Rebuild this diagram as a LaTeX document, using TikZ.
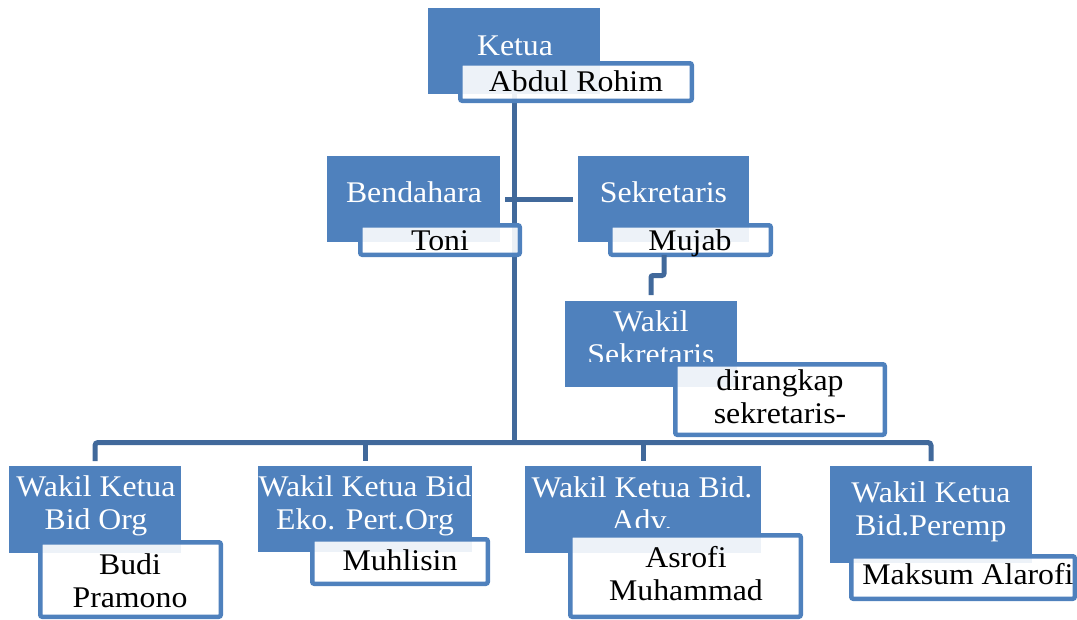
\documentclass[tikz,border=0pt]{standalone}
\usepackage{fontspec}
\setmainfont[FakeStretch=1.06]{Liberation Serif}
\newcommand\chartfs{\fontsize{30}{33}\selectfont}
\definecolor{blu}{HTML}{4F81BD}
\definecolor{conncol}{HTML}{41699B}
\tikzset{
  bluebox/.style={fill=blu, draw=none, inner sep=0pt, outer sep=0pt},
  namebox/.style={fill=white, fill opacity=0.9, draw=blu, draw opacity=1, line width=4.5pt, rounded corners=2pt, inner sep=0pt, outer sep=0pt},
  wtext/.style={text=white, font=\chartfs, anchor=base, align=center, inner sep=0pt},
  ktext/.style={text=black, font=\chartfs, anchor=base, align=center, inner sep=0pt},
  conn/.style={draw=conncol, line width=5pt}
}
\begin{document}
\begin{tikzpicture}[x=1pt,y=-1pt]
\useasboundingbox (0,0) rectangle (1077,619);
% named coordinates
\coordinate (busc) at (515,442.5);
\coordinate (mj) at (664,275.5);
% blue boxes
\node[bluebox, minimum width=172pt, minimum height=86pt] (K) at (514,51) {};
\node[bluebox, minimum width=173pt, minimum height=86pt] (Bend) at (413.5,199) {};
\node[bluebox, minimum width=171pt, minimum height=86pt] (Sek) at (663.5,199) {};
\node[bluebox, minimum width=172pt, minimum height=86pt] (WS) at (651,344) {};
\node[bluebox, minimum width=172pt, minimum height=87pt] (B1) at (95,509.5) {};
\node[bluebox, minimum width=214pt, minimum height=86pt] (B2) at (365,509) {};
\node[bluebox, minimum width=236pt, minimum height=87pt] (B3) at (643,509.5) {};
\node[bluebox, minimum width=202pt, minimum height=97pt] (B4) at (931,514.5) {};
% connectors
\draw[conn] (K.south) -- (K.south |- busc);
\draw[conn, rounded corners=3pt, shorten <=5pt, shorten >=5pt]
  (B1.north) -- (B1.north |- busc) -- (B4.north |- busc) -- (B4.north);
\draw[conn, shorten >=5pt] (B2.north |- busc) -- (B2.north);
\draw[conn, shorten >=5pt] (B3.north |- busc) -- (B3.north);
\draw[conn, shorten <=5pt, shorten >=5pt] (Bend.east) -- (Sek.west);
% blue-box texts (anchor = baseline of last line)
\node[wtext] (tK) at (515,55) {Ketua};
\node[wtext] (tBend) at (414,202.7) {Bendahara};
\node[wtext] (tSek) at (663.5,202.7) {Sekretaris};
\begin{scope}
  \clip (WS.north west) rectangle (WS.east |- 0,361);
  \node[wtext] (tWS) at (651,364) {Wakil\\Sekretaris};
\end{scope}
\node[wtext] (tB1) at (96,529.3) {Wakil Ketua\\Bid Org};
\node[wtext] (tB2) at (365,529.5) {Wakil Ketua Bid\\Eko. Pert.Org};
\begin{scope}
  \clip (B3.north west) rectangle (B3.east |- 0,527);
  \node[wtext] (tB3) at (642,530.5) {Wakil Ketua Bid.\\Adv.};
\end{scope}
\node[wtext] (tB4) at (931,535.5) {Wakil Ketua\\Bid.Peremp};
% name boxes
\node[namebox, minimum width=231.5pt, minimum height=37.5pt] (NK) at (576,82) {};
\node[namebox, minimum width=159.5pt, minimum height=29.5pt] (NBend) at (440,240) {};
\node[namebox, minimum width=160.5pt, minimum height=29.5pt] (NSek) at (690.5,240) {};
\node[namebox, minimum width=209.5pt, minimum height=70.5pt] (NWS) at (780,399.5) {};
\node[namebox, minimum width=180.5pt, minimum height=74.5pt] (N1) at (130.5,579.5) {};
\node[namebox, minimum width=175.5pt, minimum height=44.5pt] (N2) at (400,561.5) {};
\node[namebox, minimum width=230.5pt, minimum height=81.5pt] (N3) at (685.5,576) {};
\node[namebox, minimum width=223.5pt, minimum height=42.5pt] (N4) at (963,577.5) {};
% connector from Mujab to Wakil Sekretaris
\draw[conn, rounded corners=2pt, shorten >=6pt]
  (NSek.south -| mj) -- (mj) -- (WS.north |- mj) -- (WS.north);
% name texts
\node[ktext] (tNK) at (576,91.7) {Abdul Rohim};
\node[ktext] (tNBend) at (440,250) {Toni};
\node[ktext] (tNSek) at (690,250) {Mujab};
\node[ktext] (tNWS) at (780,423) {dirangkap\\sekretaris-};
\node[ktext] (tN1) at (130,607) {Budi\\Pramono};
\node[ktext] (tN2) at (400,570) {Muhlisin};
\node[ktext] (tN3) at (686,600) {Asrofi\\Muhammad};
\node[ktext] (tN4) at (968,584) {Maksum Alarofi};
\end{tikzpicture}
\end{document}
